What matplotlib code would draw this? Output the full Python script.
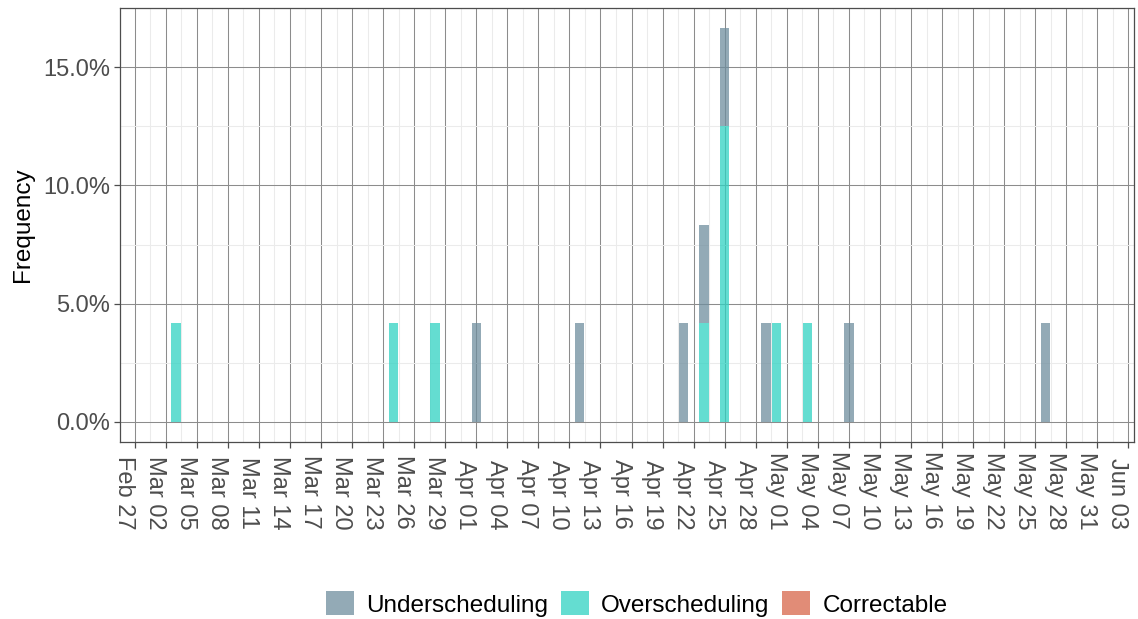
import pandas as pd
import matplotlib
matplotlib.use("Agg")
import matplotlib.pyplot as plt
import matplotlib.dates as mdates
from matplotlib.ticker import PercentFormatter, MultipleLocator
from matplotlib.patches import Patch

plt.rcParams['font.family'] = ['Liberation Sans', 'DejaVu Sans']

# values (percent of all events)
categories = ['Underscheduling', 'Overscheduling', 'Correctable']
colors = ['#6F8E9E', '#30D2C2', '#D8664A']

under_dates = ['2021-04-01', '2021-04-11', '2021-04-21', '2021-04-23',
               '2021-04-25', '2021-04-29', '2021-05-07', '2021-05-26']
under_pct = [4.167, 4.167, 4.167, 4.167, 4.167, 4.167, 4.167, 4.167]

over_dates = ['2021-03-03', '2021-03-24', '2021-03-28', '2021-04-23',
              '2021-04-25', '2021-04-30', '2021-05-03']
over_pct = [4.167, 4.167, 4.167, 4.167, 12.5, 4.167, 4.167]

correct_dates = []
correct_pct = []

x_start = '2021-02-27'
x_end = '2021-06-03'

series = {
    'Underscheduling': pd.Series(under_pct, index=pd.to_datetime(under_dates), dtype=float),
    'Overscheduling': pd.Series(over_pct, index=pd.to_datetime(over_dates), dtype=float),
    'Correctable': pd.Series(correct_pct, index=pd.to_datetime(correct_dates), dtype=float),
}
df = pd.DataFrame(series).fillna(0).sort_index()

W, H = 1138, 619
fig = plt.figure(figsize=(W / 100, H / 100), dpi=100)
left, right, top, bottom = 120, 1134, 8, 441.7
ax = fig.add_axes([left / W, 1 - bottom / H, (right - left) / W, (bottom - top) / H])

# stacked like ggplot: last level at the bottom, first on top
base = pd.Series(0.0, index=df.index)
for cat, col in list(zip(categories, colors))[::-1]:
    vals = df[cat]
    mask = vals > 0
    ax.bar(df.index[mask], vals[mask], bottom=base[mask], width=0.9,
           color=col, alpha=0.75, linewidth=0, zorder=3)
    base = base + vals

# axes limits / ticks
t0 = pd.Timestamp(x_start)
t1 = pd.Timestamp(x_end)
ax.set_xlim(t0 - pd.Timedelta(hours=34), t1 + pd.Timedelta(hours=13))
ax.set_ylim(-0.833, 17.5)

major = pd.date_range(t0, t1, freq='3D')
minor = major[:-1] + pd.Timedelta(hours=36)
ax.set_xticks(major)
ax.set_xticks(minor, minor=True)
ax.xaxis.set_major_formatter(mdates.DateFormatter('%b %d'))
ax.yaxis.set_major_locator(MultipleLocator(5))
ax.yaxis.set_minor_locator(MultipleLocator(2.5))
ax.yaxis.set_major_formatter(PercentFormatter(xmax=100, decimals=1))

ax.grid(which='major', color='#8c8c8c', linewidth=0.75, zorder=0)
ax.grid(which='minor', color='#ebebeb', linewidth=0.75, zorder=0)
ax.set_axisbelow(True)

for s in ax.spines.values():
    s.set_color('#4d4d4d')
    s.set_linewidth(0.9)

ax.tick_params(axis='both', which='major', length=4, width=0.9, color='#4d4d4d',
               labelcolor='#4d4d4d', labelsize=17)
ax.tick_params(axis='both', which='minor', length=0)
ax.tick_params(axis='y', pad=3)
# labels read top-to-bottom, their ends lined up
ax.tick_params(axis='x', pad=59, labelrotation=270)
plt.setp(ax.get_xticklabels(), ha='right', va='bottom', rotation_mode='default')

ax.set_ylabel('Frequency', fontsize=17.5, color='black', labelpad=7)

handles = [Patch(facecolor=c, alpha=0.75, linewidth=0) for c in colors]
fig.legend(handles, categories, loc='center', bbox_to_anchor=(637 / W, 1 - 604 / H),
           ncol=3, frameon=False, fontsize=17.5, handlelength=1.15, handleheight=1.15,
           handletextpad=0.5, columnspacing=0.52)

fig.savefig('out.png', dpi=100)
